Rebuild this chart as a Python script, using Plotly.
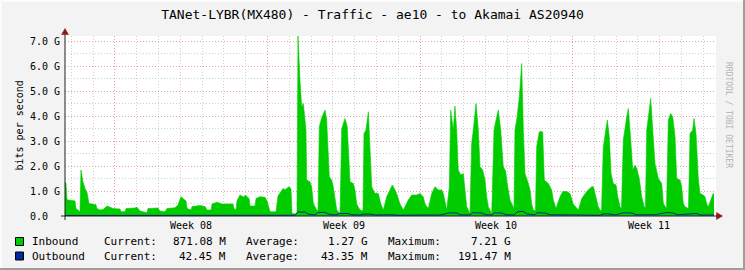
import plotly.graph_objects as go

# ---------------- data (hours since left edge of graph, Gbit/s) ----------------
in_hours = [0, 1.1, 2.2, 11.0, 12.1, 16.5, 17.6, 18.7, 19.8, 22.0, 24.2, 26.4, 30.8, 34.1, 35.2, 38.5,
            41.9, 46.3, 49.6, 52.9, 60.6, 61.7, 66.1, 67.2, 77.1, 79.3, 82.6, 88.1, 90.3, 91.4, 102.4,
            104.6, 110.1, 112.3, 121.2, 124.5, 127.8, 130.0, 133.3, 134.4, 138.8, 139.9, 148.7, 154.2,
            156.4, 160.8, 161.9, 167.4, 172.9, 185.0, 186.1, 188.3, 189.4, 192.7, 197.2, 198.3, 202.7,
            203.8, 209.3, 210.4, 214.8, 220.3, 222.5, 225.8, 232.4, 234.6, 240.1, 242.3, 246.7, 248.9,
            250.0, 255.5, 256.6, 258.8, 260.7, 262.5, 263.6, 265.4, 266.2, 269.8, 271.7, 273.5, 277.2,
            278.7, 280.1, 282.7, 286.4, 288.2, 291.1, 293.7, 295.5, 297.4, 299.3, 302.9, 304.8, 308.4,
            310.9, 313.9, 317.5, 319.4, 321.3, 324.9, 328.2, 329.3, 331.5, 334.1, 335.9, 337.8, 341.4,
            345.1, 347.7, 350.6, 354.3, 358.0, 360.5, 363.5, 365.3, 369.0, 372.6, 378.1, 381.9, 387.4,
            391.0, 394.6, 396.5, 400.1, 403.9, 407.5, 411.2, 414.9, 416.7, 420.4, 423.3, 424.8, 427.7,
            429.5, 431.4, 433.1, 435.8, 438.7, 440.6, 442.4, 446.1, 447.9, 449.7, 452.7, 455.2, 457.1,
            460.0, 462.6, 464.4, 466.2, 470.0, 472.5, 475.5, 477.2, 479.9, 482.7, 485.3, 487.0, 490.1,
            493.0, 494.5, 495.6, 498.0, 500.4, 501.9, 503.0, 504.8, 506.6, 510.3, 512.2, 514.0, 515.8,
            518.2, 519.5, 522.4, 526.1, 527.9, 532.3, 536.0, 537.8, 540.8, 545.2, 548.2, 552.6, 556.2,
            559.8, 565.4, 569.1, 574.6, 580.1, 581.9, 583.7, 587.4, 589.2, 590.9, 592.9, 594.8, 597.3,
            599.5, 601.4, 603.9, 606.9, 608.8, 611.3, 612.9, 614.9, 618.7, 620.4, 623.1, 625.3, 627.8,
            629.7, 632.5, 635.2, 637.7, 639.3, 640.7, 642.4, 645.1, 647.3, 649.8, 653.5, 657.2, 659.0,
            660.8, 662.5, 664.5, 667.1, 669.3, 671.9, 673.7, 677.4, 679.2, 681.0, 682.9, 686.7, 688.4,
            691.3, 692.8, 695.0, 697.5, 699.4, 703.0, 704.9, 706.8, 708.5, 711.2, 714.0, 714.8]
in_gbps = [1.37, 1.3, 0.65, 0.6, 0.3, 0.17, 1.84, 1.6, 1.37, 1.1, 0.95, 0.5, 0.48, 0.45, 0.3, 0.24,
           0.26, 0.4, 0.35, 0.3, 0.28, 0.17, 0.17, 0.3, 0.32, 0.35, 0.2, 0.13, 0.13, 0.3, 0.32,
           0.2, 0.17, 0.3, 0.33, 0.45, 0.77, 0.7, 0.6, 0.3, 0.24, 0.38, 0.42, 0.38,
           0.24, 0.24, 0.48, 0.55, 0.48, 0.48, 0.3, 0.24, 0.6, 0.84, 0.75, 0.84, 0.7,
           0.4, 0.4, 0.7, 0.77, 0.75, 0.6, 0.17, 0.17, 0.8, 1.1, 1.05, 1.17, 1.1,
           0.1, 0.08, 7.2, 5.44, 4.37, 4.5, 3.97, 3.44, 1.44, 1.37, 1.17, 0.5, 0.24,
           0.2, 3.57, 3.93, 4.24, 3.84, 1.57, 1.44, 1.17, 0.64, 0.24, 0.1, 3.5, 3.9,
           3.57, 1.37, 1.3, 1.04, 0.48, 0.24, 0.2, 3.3, 3.44, 4.17, 2.37, 1.17, 0.9,
           0.9, 0.5, 0.24, 0.77, 1.04, 1.24, 1.04, 0.9, 0.48, 0.24, 0.64, 0.84, 0.84,
           0.9, 0.77, 0.48, 0.3, 0.9, 1.17, 1.04, 1.04, 0.9, 0.24, 1.17, 4.24, 3.44,
           4.4, 3.44, 1.84, 1.64, 1.7, 1.04, 0.37, 0.1, 2.9, 3.44, 4.5, 3.44, 1.97,
           1.84, 1.44, 0.77, 0.37, 0.1, 3.44, 3.97, 4.24, 3.44, 1.97, 1.8, 1.3, 0.64,
           0.37, 0.3, 3.44, 3.97, 4.77, 5.44, 6.1, 3.44, 1.7, 1.3, 1.04, 0.48, 0.24,
           0.2, 2.77, 3.37, 3.37, 1.44, 1.3, 1.04, 0.64, 0.3, 0.77, 0.98, 0.98, 0.9,
           0.48, 0.24, 0.7, 0.98, 1.17, 1.17, 0.9, 0.37, 0.24, 0.2, 2.77, 3.17, 3.84,
           3.17, 1.7, 1.3, 1.24, 0.77, 0.37, 0.3, 3.04, 3.97, 4.3, 3.04, 1.84, 2.04,
           1.9, 1.5, 0.77, 0.4, 0.3, 3.44, 3.97, 4.7, 3.44, 2.1, 1.5, 1.3, 0.5,
           0.37, 0.3, 3.84, 4.1, 3.97, 3.17, 1.5, 1.44, 1.17, 0.5, 0.37, 0.3, 3.3,
           3.44, 3.9, 3.3, 1.5, 0.9, 0.84, 0.77, 0.48, 0.37, 0.64, 0.9, 0.87]

out_hours = [0, 16.5, 17.6, 27.5, 38.5, 93.6, 127.8, 148.7, 192.7, 203.8, 214.8, 240.1, 247.8, 253.3,
             256.6, 261.0, 264.3, 267.6, 275.4, 278.7, 286.4, 289.7, 297.4, 302.9, 311.7, 316.1,
             324.9, 329.3, 335.9, 341.4, 358.0, 369.0, 391.0, 413.0, 424.0, 431.7, 435.1, 446.1,
             448.3, 459.3, 463.7, 470.3, 472.5, 481.3, 485.7, 494.5, 497.8, 504.4, 508.9, 517.7,
             519.9, 528.7, 534.2, 545.2, 567.2, 589.2, 593.6, 600.2, 605.8, 614.6, 624.5, 628.9,
             639.9, 644.4, 649.8, 662.7, 669.3, 674.8, 688.4, 696.1, 699.4, 714.8]
out_gbps = [0.02, 0.02, 0.04, 0.03, 0.02, 0.02, 0.03, 0.02, 0.03, 0.02, 0.03, 0.03, 0.02, 0.03,
            0.17, 0.15, 0.17, 0.08, 0.04, 0.14, 0.15, 0.08, 0.04, 0.1, 0.1, 0.05,
            0.04, 0.08, 0.08, 0.04, 0.05, 0.03, 0.04, 0.04, 0.13, 0.12, 0.05, 0.04,
            0.13, 0.12, 0.05, 0.04, 0.13, 0.12, 0.05, 0.04, 0.16, 0.19, 0.08, 0.05,
            0.13, 0.12, 0.05, 0.04, 0.04, 0.03, 0.09, 0.08, 0.04, 0.13, 0.12, 0.05,
            0.05, 0.08, 0.05, 0.14, 0.12, 0.05, 0.1, 0.1, 0.04, 0.04]
assert len(in_hours) == len(in_gbps) and len(out_hours) == len(out_gbps)

title = "TANet-LYBR(MX480) - Traffic - ae10 - to Akamai AS20940"
y_tick_vals = [0, 1, 2, 3, 4, 5, 6, 7]
y_tick_text = ["0.0\u00a0\u00a0", "1.0 G", "2.0 G", "3.0 G", "4.0 G", "5.0 G", "6.0 G", "7.0 G"]
y_minor_vals = [0.5, 1.5, 2.5, 3.5, 4.5, 5.5, 6.5]
week_starts = [55, 223, 391, 559]
week_label_pos = [139, 307, 475, 643]
week_labels = ["Week 08", "Week 09", "Week 10", "Week 11"]
day_lines = [h for h in range(7, 717, 24) if h not in week_starts]

legend_names = ["Inbound", "Outbound"]
legend_colors = ["#00CC00", "#002A97"]
legend_current = ["871.08 M", "42.45 M"]
legend_average = ["1.27 G", "43.35 M"]
legend_maximum = ["7.21 G", "191.47 M"]

# ---------------- geometry helpers (pixel -> paper) ----------------
W, H = 745, 270
L, R, T, B = 65, 716, 36, 216


def px(x):
    return (x - L) / (R - L)


def py(y):
    return (B - y) / (B - T)


MONO = "DejaVu Sans Mono"
BG = "#F3F3F3"

fig = go.Figure()
fig.add_trace(go.Scatter(x=in_hours, y=in_gbps, mode="lines", fill="tozeroy",
                         fillcolor="#00CC00", line=dict(color="#00CC00", width=0.6),
                         hoverinfo="skip", showlegend=False))
fig.add_trace(go.Scatter(x=out_hours, y=out_gbps, mode="lines",
                         line=dict(color="#002A97", width=1),
                         hoverinfo="skip", showlegend=False))

shapes = []
# frame (3d look)
shapes.append(dict(type="rect", xref="paper", yref="paper", x0=px(0), x1=px(745), y0=py(0), y1=py(2),
                   fillcolor="#FCFCFC", line_width=0, layer="below"))
shapes.append(dict(type="rect", xref="paper", yref="paper", x0=px(0), x1=px(2), y0=py(0), y1=py(270),
                   fillcolor="#FCFCFC", line_width=0, layer="below"))
shapes.append(dict(type="rect", xref="paper", yref="paper", x0=px(0), x1=px(745), y0=py(268), y1=py(270),
                   fillcolor="#9E9E9E", line_width=0, layer="below"))
shapes.append(dict(type="rect", xref="paper", yref="paper", x0=px(743), x1=px(745), y0=py(0), y1=py(270),
                   fillcolor="#9E9E9E", line_width=0, layer="below"))
# axes
shapes.append(dict(type="line", xref="paper", yref="paper", x0=px(65), x1=px(65), y0=py(220), y1=py(32),
                   line=dict(color="#202020", width=1)))
shapes.append(dict(type="line", xref="paper", yref="paper", x0=px(61), x1=px(717), y0=py(216), y1=py(216),
                   line=dict(color="#202020", width=1)))
# arrows
shapes.append(dict(type="path", xref="paper", yref="paper",
                   path=f"M {px(65)} {py(28.5)} L {px(61.5)} {py(34.5)} L {px(68.5)} {py(34.5)} Z",
                   fillcolor="#8B1A1A", line=dict(color="#8B1A1A", width=0.5)))
shapes.append(dict(type="path", xref="paper", yref="paper",
                   path=f"M {px(722.5)} {py(216)} L {px(716.5)} {py(212.5)} L {px(716.5)} {py(219.5)} Z",
                   fillcolor="#8B1A1A", line=dict(color="#8B1A1A", width=0.5)))
# legend swatches
for i, c in enumerate(legend_colors):
    y0 = 237.5 + 14.5 * i
    shapes.append(dict(type="rect", xref="paper", yref="paper", x0=px(15.5), x1=px(23.5),
                       y0=py(y0), y1=py(y0 + 8), fillcolor=c, line=dict(color="#000000", width=1)))

ann = []
ann.append(dict(text="bits per second", xref="paper", yref="paper", x=px(11), y=py(126),
                textangle=-90, showarrow=False, font=dict(family=MONO, size=10, color="#000")))
ann.append(dict(text="RRDTOOL / TOBI OETIKER", xref="paper", yref="paper", x=px(735.5), y=py(60),
                textangle=90, showarrow=False, font=dict(family=MONO, size=8, color="#B4B4B4")))
for pos, lab in zip(week_label_pos, week_labels):
    ann.append(dict(text=lab, xref="x", yref="paper", x=pos, y=py(225), showarrow=False,
                    xanchor="center", yanchor="middle", font=dict(family=MONO, size=10, color="#000")))
for i in range(2):
    yy = py(241.5 + 14.5 * i)
    f = dict(family=MONO, size=11, color="#000")
    ann.append(dict(text=legend_names[i], xref="paper", yref="paper", x=px(30), y=yy,
                    xanchor="left", yanchor="middle", showarrow=False, font=f))
    ann.append(dict(text="Current:", xref="paper", yref="paper", x=px(102), y=yy,
                    xanchor="left", yanchor="middle", showarrow=False, font=f))
    ann.append(dict(text=legend_current[i], xref="paper", yref="paper", x=px(228), y=yy,
                    xanchor="right", yanchor="middle", showarrow=False, font=f))
    ann.append(dict(text="Average:", xref="paper", yref="paper", x=px(244), y=yy,
                    xanchor="left", yanchor="middle", showarrow=False, font=f))
    ann.append(dict(text=legend_average[i], xref="paper", yref="paper", x=px(370), y=yy,
                    xanchor="right", yanchor="middle", showarrow=False, font=f))
    ann.append(dict(text="Maximum:", xref="paper", yref="paper", x=px(386), y=yy,
                    xanchor="left", yanchor="middle", showarrow=False, font=f))
    ann.append(dict(text=legend_maximum[i], xref="paper", yref="paper", x=px(513), y=yy,
                    xanchor="right", yanchor="middle", showarrow=False, font=f))

fig.update_layout(
    width=W, height=H, autosize=False,
    margin=dict(l=L, r=W - R, t=T, b=H - B, pad=0),
    paper_bgcolor=BG, plot_bgcolor="#FFFFFF",
    title=dict(text=title, x=0.5, xref="container", xanchor="center",
               y=1 - 14 / H, yref="container", yanchor="middle",
               font=dict(family=MONO, size=13, color="#000")),
    xaxis=dict(range=[0, 717], tickmode="array", tickvals=week_starts, showticklabels=False,
               ticks="", showgrid=True, gridcolor="#E8A0A0", griddash="1px,2px", gridwidth=1,
               zeroline=False, showline=False, fixedrange=True,
               minor=dict(tickmode="array", tickvals=day_lines, showgrid=True, gridcolor="#CFCFCF",
                          griddash="1px,2px", gridwidth=1, ticks="")),
    yaxis=dict(range=[0, 7.2], tickmode="array", tickvals=y_tick_vals, ticktext=y_tick_text,
               ticks="", showgrid=True, gridcolor="#E8A0A0", griddash="1px,2px", gridwidth=1,
               zeroline=False, showline=False, fixedrange=True,
               tickfont=dict(family=MONO, size=10, color="#000"), ticklabelstandoff=4,
               minor=dict(tickmode="array", tickvals=y_minor_vals, showgrid=True, gridcolor="#CFCFCF",
                          griddash="1px,2px", gridwidth=1, ticks="")),
    shapes=shapes, annotations=ann,
)

fig.write_html("out.html")
